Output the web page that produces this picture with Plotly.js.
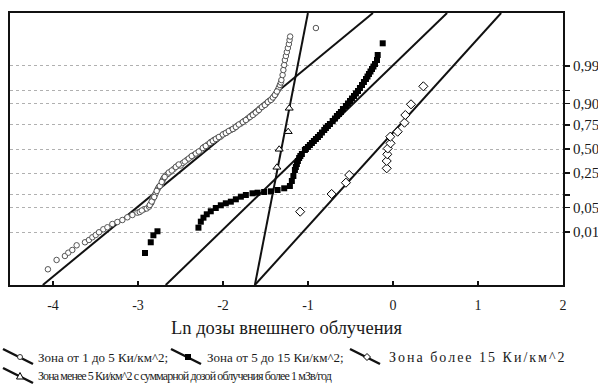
<!DOCTYPE html>
<html><head><meta charset="utf-8">
<script src="https://cdn.plot.ly/plotly-3.0.1.min.js"></script>
<style>html,body{margin:0;padding:0;background:#fff}</style>
</head><body><div id="chart" style="width:598px;height:392px"></div>
<script>
// ---- data (x = ln dose, z = normal quantile of cumulative probability) ----
const zone1X = [-4.060,-3.958,-3.860,-3.820,-3.773,-3.722,-3.624,-3.577,-3.537,-3.498,-3.459,-3.408,-3.360,-3.302,-3.243,-3.184,-3.125,-3.066,-3.007,-2.980,-2.929,-2.898,-2.870,-2.844,-2.830,-2.827,-2.815,-2.803,-2.791,-2.768,-2.756,-2.733,-2.709,-2.697,-2.674,-2.650,-2.615,-2.580,-2.536,-2.497,-2.473,-2.426,-2.379,-2.344,-2.297,-2.261,-2.223,-2.179,-2.144,-2.108,-2.065,-2.026,-1.991,-1.955,-1.908,-1.873,-1.837,-1.790,-1.751,-1.708,-1.673,-1.637,-1.594,-1.567,-1.531,-1.496,-1.457,-1.425,-1.398,-1.378,-1.355,-1.343,-1.331,-1.319,-1.313,-1.299,-1.290,-1.280,-1.272,-1.260,-1.249,-1.237,-1.225,-1.217,-1.210,-0.907,
  -2.956,-2.862,-2.839,-2.809,-2.780,-2.744,-2.721,-2.686,-2.638,-2.603,-2.556,-2.521,-2.450,-2.403,-2.368,-2.320,-2.285,-2.238,-2.203,-2.155,-2.120,-2.085,-2.049,-2.002,-1.967,-1.932,-1.885,-1.849,-1.814,-1.767,-1.731,-1.684,-1.649,-1.614,-1.578,-1.543,-1.508,-1.473,-1.437,-1.413,-1.390,-1.366];
const zone1Z = [-3.370,-3.109,-2.997,-2.905,-2.829,-2.698,-2.613,-2.549,-2.473,-2.409,-2.333,-2.249,-2.193,-2.101,-2.045,-1.989,-1.913,-1.849,-1.784,-1.765,-1.689,-1.667,-1.616,-1.513,-1.429,-1.373,-1.331,-1.289,-1.241,-1.120,-1.064,-1.008,-0.868,-0.812,-0.742,-0.700,-0.636,-0.560,-0.476,-0.462,-0.392,-0.308,-0.224,-0.168,-0.098,-0.042,0.056,0.126,0.196,0.252,0.308,0.350,0.420,0.462,0.532,0.574,0.644,0.714,0.784,0.854,0.924,0.980,1.064,1.134,1.204,1.261,1.345,1.401,1.485,1.555,1.653,1.723,1.793,1.863,1.933,2.073,2.213,2.353,2.493,2.605,2.717,2.829,2.941,3.053,3.151,3.389,
  -1.723,-1.569,-1.471,-1.345,-1.176,-1.036,-0.924,-0.784,-0.658,-0.602,-0.504,-0.434,-0.350,-0.266,-0.196,-0.126,-0.070,0.028,0.084,0.168,0.224,0.280,0.336,0.406,0.448,0.504,0.560,0.616,0.686,0.756,0.812,0.896,0.952,1.022,1.092,1.176,1.232,1.317,1.373,1.443,1.513,1.611];

const zone2X = [-2.918,-2.850,-2.819,-2.771,-2.289,-2.261,-2.230,-2.191,-2.144,-2.085,-2.026,-1.967,-1.908,-1.849,-1.790,-1.731,-1.653,-1.594,-1.516,-1.437,-1.358,-1.280,-1.213,-1.190,-1.172,-1.154,-1.143,-1.131,-1.119,-1.104,-1.090,-1.072,-1.037,-1.025,-1.001,-0.978,-0.954,-0.931,-0.907,-0.883,-0.860,-0.836,-0.809,-0.789,-0.766,-0.742,-0.710,-0.683,-0.660,-0.636,-0.613,-0.589,-0.554,-0.530,-0.506,-0.483,-0.459,-0.436,-0.412,-0.389,-0.365,-0.342,-0.318,-0.300,-0.283,-0.265,-0.247,-0.230,-0.212,-0.188,-0.180,-0.121];
const zone2Z = [-2.913,-2.613,-2.417,-2.305,-2.204,-2.036,-1.924,-1.829,-1.745,-1.653,-1.577,-1.521,-1.476,-1.409,-1.336,-1.289,-1.241,-1.224,-1.204,-1.185,-1.148,-1.101,-1.036,-0.896,-0.756,-0.588,-0.504,-0.420,-0.336,-0.252,-0.196,-0.140,-0.028,0.000,0.056,0.112,0.168,0.224,0.280,0.336,0.392,0.462,0.532,0.588,0.644,0.700,0.784,0.854,0.924,0.980,1.036,1.120,1.204,1.275,1.345,1.415,1.485,1.555,1.625,1.709,1.793,1.877,1.961,2.031,2.101,2.171,2.241,2.311,2.381,2.493,2.633,2.961];

const zone3X = [-1.092,-0.722,-0.554,-0.515,-0.074,-0.074,-0.067,-0.062,-0.029,-0.032,0.055,0.135,0.145,0.212,0.357];
const zone3Z = [-1.756,-1.261,-0.944,-0.728,-0.541,-0.336,-0.148,0.014,0.160,0.345,0.485,0.737,0.952,1.252,1.756];

const zone4X = [-1.366,-1.339,-1.233,-1.221];
const zone4Z = [-0.513,-0.008,0.485,1.140];

// fitted lines (end points at the plot's lower / upper edge)
const fitZ  = [-3.81, 3.81];
const fit1X = [-4.12, -0.236];
const fit2X = [-2.674, 0.636];
const fit3X = [-1.625, 1.272];
const fit4X = [-1.625, -1.001];

const probTicks  = [0.01, 0.05, 0.10, 0.25, 0.50, 0.75, 0.90, 0.95, 0.99];
const probLabels = ['0,01','0,05','','0,25','0,50','0,75','0,90','','0,99'];
const xTicks = [-4,-3,-2,-1,0,1,2];

const legendNames = [
  'Зона от 1 до 5 Ки/км^2;',
  'Зона от 5 до 15 Ки/км^2;',
  'Зона более 15 Ки/км^2',
  'Зона менее 5 Ки/км^2 с суммарной дозой облучения более 1 мЗв/год'
];

// ---- helpers ----
function normInv(p){
  const a=[-3.969683028665376e+01,2.209460984245205e+02,-2.759285104469687e+02,1.383577518672690e+02,-3.066479806614716e+01,2.506628277459239e+00];
  const b=[-5.447609879822406e+01,1.615858368580409e+02,-1.556989798598866e+02,6.680131188771972e+01,-1.328068155288572e+01];
  const c=[-7.784894002430293e-03,-3.223964580411365e-01,-2.400758277161838e+00,-2.549671010422001e+00,4.374664141464968e+00,2.938163982698783e+00];
  const d=[7.784695709041462e-03,3.224671290700398e-01,2.445134137142996e+00,3.754408661907416e+00];
  const pl=0.02425;
  let q,r;
  if(p<pl){q=Math.sqrt(-2*Math.log(p));return (((((c[0]*q+c[1])*q+c[2])*q+c[3])*q+c[4])*q+c[5])/((((d[0]*q+d[1])*q+d[2])*q+d[3])*q+1);}
  if(p>1-pl){q=Math.sqrt(-2*Math.log(1-p));return -(((((c[0]*q+c[1])*q+c[2])*q+c[3])*q+c[4])*q+c[5])/((((d[0]*q+d[1])*q+d[2])*q+d[3])*q+1);}
  q=p-0.5;r=q*q;
  return (((((a[0]*r+a[1])*r+a[2])*r+a[3])*r+a[4])*r+a[5])*q/(((((b[0]*r+b[1])*r+b[2])*r+b[3])*r+b[4])*r+1);
}

const FONT = '"Liberation Serif", "Times New Roman", "DejaVu Serif", serif';
const W=598,H=392, L=10,R=563,T=13,B=285;
const px2x = px => (px-L)/(R-L);
const py2y = py => (B-py)/(B-T);

const lineStyle = {color:'#111', width:2};
const traces = [
  {x:fit1X, y:fitZ, mode:'lines', line:lineStyle, hoverinfo:'skip'},
  {x:fit2X, y:fitZ, mode:'lines', line:lineStyle, hoverinfo:'skip'},
  {x:fit3X, y:fitZ, mode:'lines', line:lineStyle, hoverinfo:'skip'},
  {x:fit4X, y:fitZ, mode:'lines', line:lineStyle, hoverinfo:'skip'},
  {x:zone1X, y:zone1Z, mode:'markers', marker:{symbol:'circle', size:5.5, color:'#fff', line:{color:'#555', width:1}}},
  {x:zone2X, y:zone2Z, mode:'markers', marker:{symbol:'square', size:6, color:'#000', line:{color:'#000', width:0}}},
  {x:zone3X, y:zone3Z, mode:'markers', marker:{symbol:'diamond', size:7, color:'#fff', line:{color:'#000', width:1}}},
  {x:zone4X, y:zone4Z, mode:'markers', marker:{symbol:'triangle-up', size:7, color:'#fff', line:{color:'#000', width:1}}}
];

// ---- manual legend (diagonal line symbols like the original) ----
const legendPos = [ // [symbol x start, row center y, text x, font size, letter spacing]
  [3, 357, 36, 13, 0], [171, 357, 205, 13, 0], [350, 357, 387, 14, 2], [3, 376, 36, 12, -0.9]
];
const shapes = [];
const annotations = [];
legendPos.forEach((p,i)=>{
  const [sx, cy, tx, fs, ls] = p;
  shapes.push({type:'line', xref:'paper', yref:'paper',
    x0:px2x(sx), y0:py2y(cy-8), x1:px2x(sx+30), y1:py2y(cy+7),
    line:{color:'#111', width:2.5}});
  const mx = px2x(sx+17), my = py2y(cy);
  const base = {xref:'paper', yref:'paper', xsizemode:'pixel', ysizemode:'pixel', xanchor:mx, yanchor:my};
  if(i===0) shapes.push(Object.assign({type:'circle', x0:-2.5,x1:2.5,y0:-2.5,y1:2.5, fillcolor:'#fff', line:{color:'#333',width:1}}, base));
  if(i===1) shapes.push(Object.assign({type:'rect', x0:-3,x1:3,y0:-3,y1:3, fillcolor:'#000', line:{color:'#000',width:0}}, base));
  if(i===2) shapes.push(Object.assign({type:'path', path:'M0,3.5 L3.5,0 L0,-3.5 L-3.5,0 Z', fillcolor:'#fff', line:{color:'#000',width:1}}, base));
  if(i===3) shapes.push(Object.assign({type:'path', path:'M0,3.5 L3.5,-3 L-3.5,-3 Z', fillcolor:'#fff', line:{color:'#000',width:1}}, base));
  const txt = ls ? '<span style="letter-spacing:'+ls+'px">'+legendNames[i]+'</span>' : legendNames[i];
  annotations.push({xref:'paper', yref:'paper', x:px2x(tx), y:py2y(cy), xanchor:'left', yanchor:'middle',
    text:txt, showarrow:false, font:{family:FONT, size:fs, color:'#1a1a1a'}});
});

const layout = {
  width:W, height:H,
  margin:{l:L, r:W-R, t:T, b:H-B},
  paper_bgcolor:'#fff', plot_bgcolor:'#fff',
  showlegend:false,
  font:{family:FONT, color:'#1a1a1a'},
  xaxis:{
    range:[-4.506, 2], tickvals:xTicks, ticktext:xTicks.map(String),
    showgrid:false, zeroline:false,
    showline:true, linecolor:'#111', linewidth:2, mirror:true,
    ticks:'inside', ticklen:4, tickwidth:1.5, tickcolor:'#111',
    ticklabelstandoff:6,
    tickfont:{size:14, family:FONT},
    title:{text:'Ln дозы внешнего облучения', font:{size:18.5, family:FONT}, standoff:9}
  },
  yaxis:{
    side:'right', range:[-3.81, 3.81],
    tickvals:probTicks.map(normInv), ticktext:probLabels,
    showgrid:true, gridcolor:'#b0b0b0', gridwidth:1, griddash:'dot',
    zeroline:false,
    showline:true, linecolor:'#111', linewidth:2, mirror:true,
    ticks:'outside', ticklen:5, tickwidth:1.5, tickcolor:'#111',
    tickfont:{size:15, family:FONT}
  },
  shapes:shapes,
  annotations:annotations
};

Plotly.newPlot('chart', traces, layout, {displayModeBar:false, staticPlot:true});
</script></body></html>
